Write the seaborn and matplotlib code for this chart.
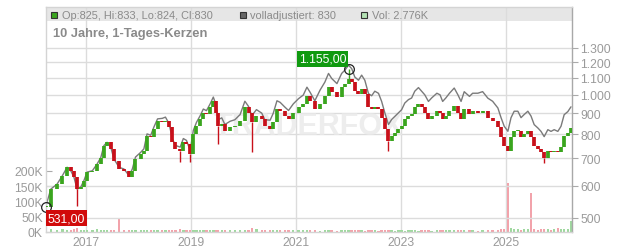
import numpy as np
import pandas as pd
import matplotlib
matplotlib.use("Agg")
import matplotlib.pyplot as plt
from matplotlib.patches import Rectangle
from matplotlib.ticker import NullLocator
import seaborn as sns

# ---------------- data ----------------
dates = [
    2016.24, 2016.34, 2016.46, 2016.56, 2016.65, 2016.72, 2016.78, 2016.84, 2016.91, 2016.97,
    2017.03, 2017.13, 2017.22, 2017.29, 2017.35, 2017.41, 2017.48, 2017.54, 2017.64, 2017.73, 2017.83, 2017.89, 2017.95,
    2018.05, 2018.11, 2018.17, 2018.24, 2018.30, 2018.37, 2018.46, 2018.52, 2018.59, 2018.65, 2018.71, 2018.80, 2018.86, 2018.92, 2018.99,
    2019.05, 2019.11, 2019.18, 2019.24, 2019.30, 2019.37, 2019.43, 2019.49, 2019.52, 2019.59, 2019.65, 2019.75, 2019.84, 2019.94,
    2020.03, 2020.10, 2020.16, 2020.25, 2020.35, 2020.41, 2020.51, 2020.57, 2020.64, 2020.70, 2020.79, 2020.86, 2020.95,
    2021.05, 2021.14, 2021.21, 2021.27, 2021.36, 2021.46, 2021.55, 2021.62, 2021.68, 2021.78, 2021.87, 2021.93,
    2022.00, 2022.06, 2022.12, 2022.19, 2022.25, 2022.31, 2022.38, 2022.44, 2022.50, 2022.57, 2022.63, 2022.69, 2022.76, 2022.82, 2022.88, 2022.95,
    2023.01, 2023.07, 2023.14, 2023.20, 2023.26, 2023.33, 2023.39, 2023.45, 2023.52, 2023.58, 2023.68, 2023.74, 2023.79, 2023.85, 2023.92,
    2024.01, 2024.08, 2024.14, 2024.20, 2024.30, 2024.36, 2024.46, 2024.55, 2024.65, 2024.74, 2024.84, 2024.90, 2024.96,
    2025.03, 2025.09, 2025.15, 2025.22, 2025.28, 2025.34, 2025.41, 2025.47, 2025.53, 2025.60, 2025.66, 2025.72, 2025.79, 2025.85, 2025.91, 2025.98,
    2026.04, 2026.10, 2026.17, 2026.23,
]
closes = [
    531, 588, 605, 634, 665, 652, 629, 588, 595, 617,
    647, 652, 677, 702, 751, 765, 737, 690, 658, 652, 628, 652, 697,
    716, 730, 794, 788, 825, 864, 858, 864, 832, 765, 737, 730, 766, 758, 716,
    802, 839, 871, 904, 896, 931, 967, 904, 839, 848, 817, 832, 839, 864,
    931, 904, 858, 888, 871, 839, 825, 858, 920, 912, 888, 871, 904,
    931, 950, 993, 965, 920, 950, 993, 1043, 1014, 985, 1043, 1062,
    1092, 1072, 1022, 1004, 1033, 1004, 931, 920, 931, 920, 879, 825, 772, 794, 808, 825,
    839, 871, 888, 896, 931, 950, 931, 904, 871, 888, 912, 904, 871, 888, 912,
    939, 904, 871, 920, 896, 912, 904, 912, 879, 864, 832, 788, 751,
    730, 788, 817, 817, 788, 802, 817, 788, 751, 737, 723, 702, 730, 723, 730, 723,
    744, 794, 808, 830,
]
volumes_k = [
    12, 9, 8, 10, 7, 8, 9, 14, 8, 7,
    8, 7, 9, 6, 8, 7, 6, 8, 42, 6, 7, 6, 8,
    7, 6, 8, 7, 6, 7, 5, 6, 7, 8, 6, 9, 7, 6, 8,
    6, 7, 5, 6, 5, 6, 7, 8, 6, 5, 6, 5, 6, 5,
    6, 7, 12, 9, 7, 6, 5, 6, 7, 5, 6, 5, 6,
    5, 6, 5, 6, 5, 4, 5, 6, 5, 4, 6, 5,
    7, 6, 5, 6, 5, 4, 5, 6, 5, 4, 5, 6, 8, 5, 4, 5,
    5, 4, 5, 6, 5, 4, 5, 7, 5, 4, 5, 6, 5, 8, 6,
    5, 6, 7, 5, 6, 5, 4, 5, 6, 5, 7, 9, 10,
    160, 12, 10, 9, 8, 9, 10, 127, 9, 8, 10, 11, 9, 8, 10, 12,
    9, 10, 11, 37,
]
# notable wick extremes
wick_dates = [2016.84, 2018.80, 2018.99, 2019.52, 2020.16, 2022.00, 2022.76, 2025.72]
wick_values = [536, 684, 684, 758, 723, 1155, 730, 680]
# cumulative dividend adjustment factor ("volladjustiert") by year
adj_years = [2016, 2017, 2018, 2019, 2020, 2021, 2022, 2023, 2024, 2025]
adj_factor = [1.0, 1.01, 1.02, 1.035, 1.05, 1.08, 1.095, 1.105, 1.115, 1.125]

price_ticks = [500, 600, 700, 800, 900, 1000, 1100, 1200, 1300]
price_labels = ["500", "600", "700", "800", "900", "1.000", "1.100", "1.200", "1.300"]
vol_ticks = [0, 50000, 100000, 150000, 200000]
vol_labels = ["0K", "50K", "100K", "150K", "200K"]
year_ticks = [2017, 2019, 2021, 2023, 2025]

start_label = "531,00"
high_label = "1.155,00"
high_value = 1155
header_ohlc = "Op:825, Hi:833, Lo:824, Cl:830"
header_adj = "volladjustiert: 830"
header_vol = "Vol: 2.776K"
title = "10 Jahre, 1-Tages-Kerzen"

# ---------------- styling ----------------
sns.set_theme(style="white")
plt.rcParams["font.family"] = ["Liberation Sans", "DejaVu Sans"]

W, H = 632, 253
fig = plt.figure(figsize=(W / 100, H / 100), dpi=100)
L, R, T, B = 45.7, 572, 8, 233
ax = fig.add_axes([L / W, 1 - B / H, (R - L) / W, (B - T) / H])
ax_p = ax.twinx()

df = pd.DataFrame({"date": dates, "close": closes, "vol": np.array(volumes_k) * 1000})
df["open"] = [closes[0]] + closes[:-1]
df["up"] = df["close"] >= df["open"]
fac = pd.Series(adj_factor, index=adj_years)
df["adj"] = [c * fac[int(np.floor(d - 0.45))] if int(np.floor(d - 0.45)) in fac.index else c
             for d, c in zip(df["date"], df["close"])]

GREEN = "#3aa51e"
RED = "#c8101a"
GRID = "#dcdcdc"
TXT = "#9a9a9a"

x0 = 2017 + (L - 85.5) / 52.6
x1 = 2017 + (R - 85.5) / 52.6
ax.set_xlim(x0, x1)

# header band
ax.add_patch(Rectangle((0, (B - 22) / (B - T)), 1, 1, transform=ax.transAxes,
                       facecolor="#e6e6e6", edgecolor="none", zorder=0.1))

# volume
ax.set_ylim(0, (B - T) / 15.25 * 50000)
vcol = ["#9fd89f" if u else "#f2a3ab" for u in df["up"]]
ax.bar(df["date"], df["vol"], width=0.045, color=vcol, linewidth=0, zorder=2)
ax.set_yticks(vol_ticks)
ax.set_yticklabels(vol_labels)
ax.tick_params(axis="y", direction="in", length=4, width=0.8, color="#aaaaaa",
               labelcolor=TXT, labelsize=8.7, pad=2, left=True)
ax.set_xticks(year_ticks)
ax.set_xticklabels([str(y) for y in year_ticks])
ax.tick_params(axis="x", length=0, labelcolor=TXT, labelsize=8.7, pad=3)
ax.set_axisbelow(True)
ax.grid(axis="x", color=GRID, lw=1)
ax.grid(axis="y", visible=False)
for s in ax.spines.values():
    s.set_visible(False)

# price
ax_p.set_yscale("log")
ax_p.set_ylim(500 * np.exp((219 - B) / 178), 500 * np.exp((219 - T) / 178))
ax_p.set_yticks(price_ticks)
ax_p.set_yticklabels(price_labels)
ax_p.yaxis.set_minor_locator(NullLocator())
ax_p.tick_params(axis="y", direction="out", length=4, width=0.8, color="#aaaaaa",
                 labelcolor=TXT, labelsize=8.7, pad=2, right=True)
ax_p.set_axisbelow(True)
ax_p.grid(axis="y", color=GRID, lw=1)
ax_p.grid(axis="x", visible=False)
for k, s in ax_p.spines.items():
    s.set_color("#d4d4d4")
    s.set_linewidth(1)
ax_p.spines["right"].set_color("#a8a8a8")

ax_p.text(0.5, 0.47, "TRADERFOX", transform=ax_p.transAxes, fontsize=22, fontweight="bold",
          color="#e9e9e9", alpha=0.8, ha="center", va="center", zorder=1)

sns.lineplot(data=df, x="date", y="adj", ax=ax_p, color="#7a7a7a", lw=1.0, zorder=2)
ax_p.set_xlabel("")
ax_p.set_ylabel("")

lo = np.minimum(df["open"], df["close"])
hi = np.maximum(df["open"], df["close"])
for d, l, h, u in zip(df["date"], lo, hi, df["up"]):
    if h - l < 2:
        h = l * 1.006
    ax_p.vlines(d, l, h, color=GREEN if u else RED, lw=2.7, zorder=3)
for wd, wv in zip(wick_dates, wick_values):
    i = int(np.argmin(np.abs(np.array(dates) - wd)))
    base = hi[i] if wv > hi[i] else lo[i]
    ax_p.vlines(dates[i], min(base, wv), max(base, wv), color=GREEN if df["up"][i] else RED, lw=1, zorder=3)

# markers and labels
ax_p.plot([dates[0]], [closes[0]], marker="o", ms=7, mfc="none", mec="#222222", mew=0.9, zorder=5, clip_on=False)
ax_p.annotate(start_label, xy=(dates[0], closes[0]), xytext=(21, -11), textcoords="offset pixels",
              ha="center", va="center", color="white", fontsize=8.7, zorder=6,
              bbox=dict(boxstyle="square,pad=0.18", fc="#d10a0a", ec="none"))
hi_date = wick_dates[wick_values.index(high_value)]
ax_p.plot([hi_date], [high_value], marker="o", ms=7, mfc="none", mec="#222222", mew=0.9, zorder=5)
ax_p.annotate(high_label, xy=(hi_date, high_value), xytext=(-26, 10), textcoords="offset pixels",
              ha="center", va="center", color="white", fontsize=8.7, zorder=6,
              bbox=dict(boxstyle="square,pad=0.18", fc="#109a10", ec="none"))

# header legend
def px(x, y):
    return x / W, 1 - y / H

for (sx, col, label) in [(50.5, "#3aa51e", header_ohlc), (239.5, "#666666", header_adj),
                         (360.5, "#b4e2b4", header_vol)]:
    fx, fy = px(sx, 19.3)
    fig.patches.append(Rectangle((fx, fy), 6.8 / W, 6.8 / H, transform=fig.transFigure,
                                 facecolor=col, edgecolor="#333333", lw=0.8, zorder=5))
    tx, ty = px(sx + 11, 15.8)
    fig.text(tx, ty, label, color="#8a8a8a", fontsize=7.9, va="center", ha="left")

tx, ty = px(53, 33.5)
fig.text(tx, ty, title, color="#8a8a8a", fontsize=9.3, fontweight="bold", va="center", ha="left")

fig.savefig("out.png", dpi=100)
